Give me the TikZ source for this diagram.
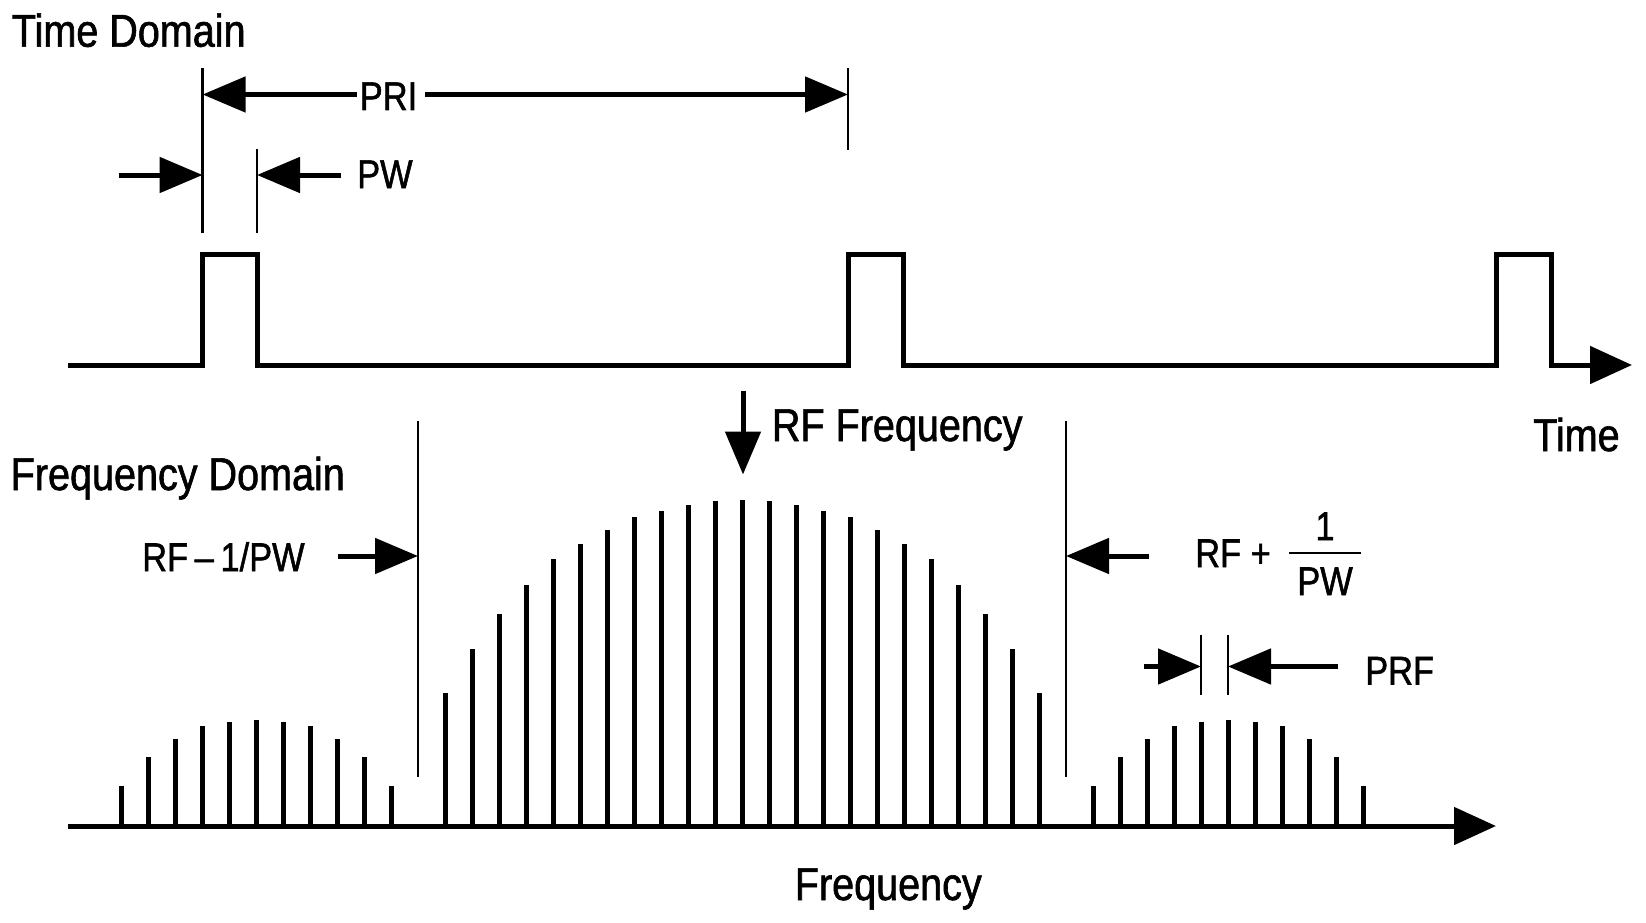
\documentclass[tikz,border=0pt]{standalone}
\usepackage{fontspec}
\setmainfont{Liberation Sans}[FakeStretch=0.86,FakeBold=1.3]
\usetikzlibrary{arrows.meta}
\newcommand\labbig{\fontsize{46}{52}\selectfont}
\newcommand\labsmall{\fontsize{40}{46}\selectfont}
\begin{document}
\begin{tikzpicture}[x=1pt,y=-1pt,
  sig/.style={line width=5pt,line join=miter},
  spec/.style={line width=5pt},
  thin/.style={line width=2.5pt},
  arr/.style={line width=5pt,-{Triangle[length=43pt,width=35pt]}},
  axarr/.style={sig,-{Triangle[length=42pt,width=37pt]}},
  big/.style={inner sep=0pt,font=\labbig},
  small/.style={inner sep=0pt,font=\labsmall}]
\useasboundingbox[fill=white] (0,0) rectangle (1646,923);

% ---------- time domain ----------
\coordinate (t0) at (68,365);
\coordinate (tEnd) at (1632,365);
\draw[axarr] (t0) -- (202.6,365) -- (202.6,254) -- (257,254) -- (257,365)
  -- (848,365) -- (848,254) -- (903,254) -- (903,365)
  -- (1496,365) -- (1496,254) -- (1551,254) -- (1551,365) -- (tEnd);

% reference ticks
\draw[thin] (202.6,68) -- (202.6,233);
\draw[thin] (257,149) -- (257,233);
\draw[thin] (848,68) -- (848,150);

% PRI
\node[small,anchor=base] (pri) at (388.5,110) {PRI};
\coordinate (priA) at (357,94.5);
\coordinate (priL) at (202.6,94.5);
\coordinate (priB) at (425,94.5);
\coordinate (priR) at (848,94.5);
\draw[arr] (priA) -- (priL);
\draw[arr] (priB) -- (priR);

% PW
\node[small,anchor=base west] (pw) at (357,188) {PW};
\coordinate (pwA) at (118.6,175);
\coordinate (pwL) at (202.6,175);
\coordinate (pwB) at (341,175);
\coordinate (pwR) at (257,175);
\draw[arr] (pwA) -- (pwL);
\draw[arr] (pwB) -- (pwR);

\node[big,anchor=base west] (td) at (11.7,46.7) {Time Domain};
\node[big,anchor=base west] (tm) at (1533,451) {Time};

% ---------- frequency domain ----------
\coordinate (f0) at (68,826);
\coordinate (fEnd) at (1496,826);
\draw[axarr] (f0) -- (fEnd);

% main lobe
\foreach \k/\h in {0/326,1/325,2/321,3/315,4/309,5/296,6/282,7/267,8/241,9/212,10/177,11/133}{
  \draw[spec] (742+27*\k,826) -- ++(0,-\h);
  \draw[spec] (742-27*\k,826) -- ++(0,-\h);
}
% side lobes
\foreach \k/\h in {13/40,14/69,15/87,16/100,17/104,18/106,19/104,20/100,21/87,22/69,23/40}{
  \draw[spec] (742+27*\k,826) -- ++(0,-\h);
  \draw[spec] (742-27*\k,826) -- ++(0,-\h);
}

% band edge lines
\draw[thin] (418,421) -- (418,777);
\draw[thin] (1066,421) -- (1066,777);

% RF frequency
\node[big,anchor=base west] (rff) at (771.7,441) {RF Frequency};
\coordinate (rfA) at (743,390.5);
\coordinate (rfB) at (743,474.5);
\draw[arr] (rfA) -- (rfB);

% RF - 1/PW
\node[small,anchor=base west] (rfm) at (142,571) {RF\,–\,1/PW};
\coordinate (rmA) at (338,556);
\coordinate (rmB) at (418,556);
\draw[arr] (rmA) -- (rmB);

% RF + 1/PW
\node[small,anchor=base west] (rfp) at (1195,567) {RF +};
\node[small,anchor=base] (one) at (1325,540) {1};
\node[small,anchor=base] (pwd) at (1325,595) {PW};
\draw[line width=2.5pt] (1289,553) -- (1361,553);
\coordinate (rpA) at (1149,556);
\coordinate (rpB) at (1066,556);
\draw[arr] (rpA) -- (rpB);

% PRF
\draw[thin] (1201,635) -- (1201,695);
\draw[thin] (1228,635) -- (1228,695);
\node[small,anchor=base west] (prf) at (1365,684.5) {PRF};
\coordinate (prA) at (1144,666.5);
\coordinate (prL) at (1201,666.5);
\coordinate (prB) at (1338,666.5);
\coordinate (prR) at (1228,666.5);
\draw[arr] (prA) -- (prL);
\draw[arr] (prB) -- (prR);

\node[big,anchor=base west] (fd) at (10.5,490) {Frequency Domain};
\node[big,anchor=base west] (fq) at (794.6,900) {Frequency};
\end{tikzpicture}
\end{document}
